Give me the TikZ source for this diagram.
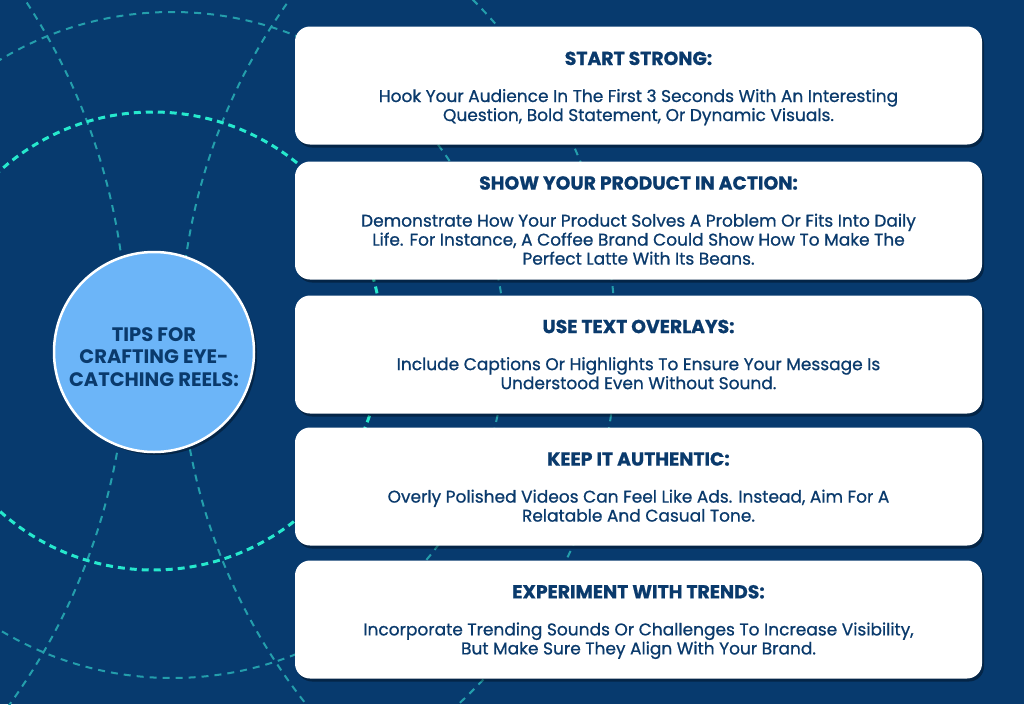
\documentclass[tikz,border=0pt]{standalone}
\usepackage{fontspec}
\setmainfont{Poppins}
\newfontfamily\medfont[FakeBold=0.8]{Poppins}
\usetikzlibrary{shadows}
\definecolor{bgnavy}{RGB}{7,58,110}
\definecolor{aqua}{RGB}{38,232,205}
\definecolor{dimaqua}{RGB}{36,158,172}
\definecolor{sky}{RGB}{108,181,248}
\definecolor{inknavy}{RGB}{10,58,108}
\newcommand{\tiphead}[1]{{\fontsize{18.8}{19}\selectfont\bfseries #1}\\[18pt]}
\begin{document}
\begin{tikzpicture}[x=1pt,y=-1pt,
  faint/.style={draw=dimaqua, line width=2pt, dash pattern=on 7pt off 6pt},
  bright/.style={draw=aqua, line width=3pt, dash pattern=on 7pt off 5pt},
  tipbox/.style={rectangle, rounded corners=15pt, fill=white, minimum width=687pt,
    minimum height=118pt, inner sep=0pt,
    drop shadow={shadow xshift=2pt, shadow yshift=-3pt, opacity=0.35, fill=black}},
  tiptext/.style={align=center, text=inknavy, inner sep=0pt,
    font=\medfont\fontsize{17}{19}\selectfont},
  hub/.style={circle, fill=sky, draw=white, line width=2.5pt, minimum size=200pt,
    inner sep=0pt,
    drop shadow={shadow xshift=3pt, shadow yshift=-3pt, opacity=0.35, fill=black}},
  hubtext/.style={align=center, text=inknavy, inner sep=0pt,
    font=\fontsize{19.5}{22.5}\selectfont\bfseries}]
\fill[bgnavy] (0,0) rectangle (1024,704);
\useasboundingbox (0,0) rectangle (1024,704);
\begin{scope}
  \clip (0,0) rectangle (1024,704);
  \draw[faint] (172,345) circle[radius=333pt];
  \draw[faint] (128,345) circle[radius=488pt];
  \draw[faint] (-494,341) circle[radius=621pt];
  \draw[faint] (766,341) circle[radius=586pt];
  \draw[bright] (153,341) circle[radius=229pt];
\end{scope}
\node[hub] (tips) at (154,352) {};
\node[hubtext] (tipst) at ([yshift=-5pt]tips.center) {TIPS FOR\\CRAFTING EYE-\\CATCHING REELS:};
\node[tipbox] (b1) at (638.5,85.5) {};
\node[tiptext] (t1) at ([yshift=-3pt]b1.center) {\tiphead{START STRONG:}Hook Your Audience In The First 3 Seconds With An Interesting\\Question, Bold Statement, Or Dynamic Visuals.};
\node[tipbox] (b2) at (638.5,220.5) {};
\node[tiptext] (t2) at (b2.center) {\tiphead{SHOW YOUR PRODUCT IN ACTION:}Demonstrate How Your Product Solves A Problem Or Fits Into Daily\\Life. For Instance, A Coffee Brand Could Show How To Make The\\Perfect Latte With Its Beans.};
\node[tipbox] (b3) at (638.5,354.5) {};
\node[tiptext] (t3) at (b3.center) {\tiphead{USE TEXT OVERLAYS:}Include Captions Or Highlights To Ensure Your Message Is\\Understood Even Without Sound.};
\node[tipbox] (b4) at (638.5,486.5) {};
\node[tiptext] (t4) at ([yshift=-0.5pt]b4.center) {\tiphead{KEEP IT AUTHENTIC:}Overly Polished Videos Can Feel Like Ads. Instead, Aim For A\\Relatable And Casual Tone.};
\node[tipbox] (b5) at (638.5,619.5) {};
\node[tiptext] (t5) at ([yshift=-2.5pt]b5.center) {\tiphead{EXPERIMENT WITH TRENDS:}Incorporate Trending Sounds Or Challenges To Increase Visibility,\\But Make Sure They Align With Your Brand.};
\end{tikzpicture}
\end{document}
